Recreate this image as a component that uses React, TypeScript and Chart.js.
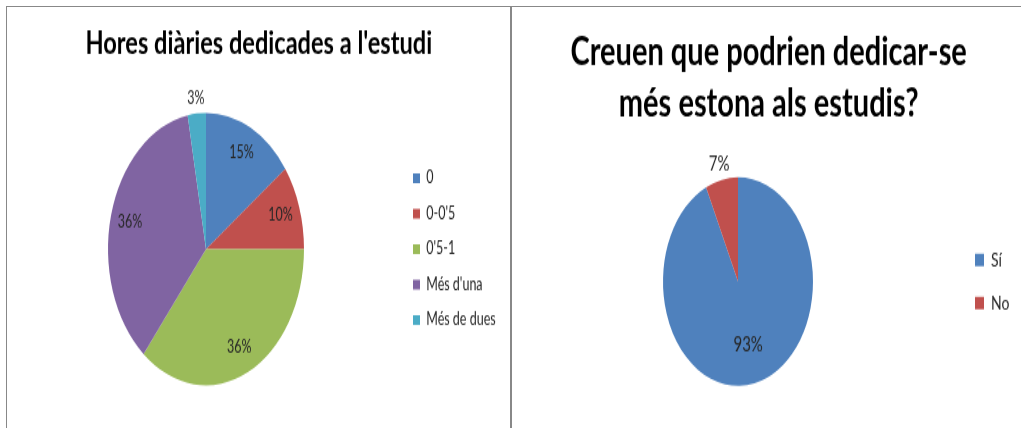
import React, { useEffect, useRef } from "react";
import { Chart, registerables } from "chart.js";

Chart.register(...registerables);

// ---- Data ----
const hoursTitle = "Hores diàries dedicades a l'estudi";
const hoursLabels = ["0", "0-0'5", "0'5-1", "Més d'una", "Més de dues"];
const hoursValues = [15, 10, 36, 36, 3];
const hoursColors = ["#4F81BD", "#C0504D", "#9BBB59", "#8064A2", "#4BACC6"];

const moreTitle = ["Creuen que podrien dedicar-se", "més estona als estudis?"];
const moreLabels = ["Sí", "No"];
const moreValues = [93, 7];
const moreColors = ["#4F81BD", "#C0504D"];

// ---- Styling ----
const STRETCH = 1.39;
const FONT = "Lato";
const TEXT_COLOR = "#262626";
const BORDER_COLOR = "#888888";

type PanelCfg = {
  left: number;
  top: number;
  width: number;
  height: number;
  title: string | string[];
  labels: string[];
  values: number[];
  colors: string[];
  titleSize: number;
  titleLineHeight: number;
  titlePadTop: number;
  titlePadBottom: number;
  legendSize: number;
  legendBox: number;
  legendPad: number;
  labelSize: number;
  labelFactors: number[];
  areaLeft: number;
  areaRight: number;
  padBottom: number;
};

const leftPanel: PanelCfg = {
  left: 8,
  top: 8,
  width: 502,
  height: 303,
  title: hoursTitle,
  labels: hoursLabels,
  values: hoursValues,
  colors: hoursColors,
  titleSize: 23.6,
  titleLineHeight: 1.2,
  titlePadTop: 11.1,
  titlePadBottom: 36.0,
  legendSize: 12.5,
  legendBox: 7,
  legendPad: 13,
  labelSize: 12.5,
  labelFactors: [0.8, 0.8, 0.8, 0.8, 1.11],
  areaLeft: 4,
  areaRight: 392,
  padBottom: 31.6,
};

const rightPanel: PanelCfg = {
  left: 512,
  top: 8,
  width: 513,
  height: 303,
  title: moreTitle,
  labels: moreLabels,
  values: moreValues,
  colors: moreColors,
  titleSize: 29,
  titleLineHeight: 1.29,
  titlePadTop: 12.9,
  titlePadBottom: 34.1,
  legendSize: 14,
  legendBox: 9,
  legendPad: 17,
  labelSize: 15,
  labelFactors: [0.62, 1.156],
  areaLeft: 6,
  areaRight: 446,
  padBottom: 31.2,
};

function PiePanel({ cfg }: { cfg: PanelCfg }) {
  const ref = useRef<HTMLCanvasElement>(null);

  useEffect(() => {
    const canvas = ref.current;
    if (!canvas) return;
    const m = document.createElement("canvas").getContext("2d")!;
    m.font = `${cfg.legendSize}px ${FONT}`;
    const maxText = Math.max(...cfg.labels.map((l) => m.measureText(l).width));
    const legendW = cfg.legendPad + cfg.legendBox + cfg.legendSize / 2 + maxText + 10;
    const padRight = Math.max(0, cfg.width - cfg.areaRight - legendW);

    const labelPlugin = {
      id: "pctLabels",
      afterDatasetsDraw(chart: any) {
        const ctx = chart.ctx as CanvasRenderingContext2D;
        const meta = chart.getDatasetMeta(0);
        const data = chart.data.datasets[0].data as number[];
        const total = data.reduce((a, b) => a + b, 0);
        ctx.save();
        ctx.font = `${cfg.labelSize}px ${FONT}`;
        ctx.fillStyle = TEXT_COLOR;
        ctx.textAlign = "center";
        ctx.textBaseline = "middle";
        meta.data.forEach((arc: any, i: number) => {
          const { x, y, startAngle, endAngle, outerRadius } = arc.getProps(
            ["x", "y", "startAngle", "endAngle", "outerRadius"],
            true
          );
          const mid = (startAngle + endAngle) / 2;
          const r = outerRadius * cfg.labelFactors[i];
          const pct = Math.round((data[i] / total) * 100);
          ctx.fillText(pct + "%", x + Math.cos(mid) * r, y + Math.sin(mid) * r);
        });
        ctx.restore();
      },
    };

    const chart = new Chart(canvas, {
      type: "pie",
      data: {
        labels: cfg.labels,
        datasets: [
          {
            data: cfg.values,
            backgroundColor: cfg.colors,
            borderWidth: 0,
          },
        ],
      },
      options: {
        responsive: false,
        animation: false,
        devicePixelRatio: 1,
        events: [],
        layout: {
          padding: { left: cfg.areaLeft, right: padRight, top: 0, bottom: cfg.padBottom },
        },
        plugins: {
          title: {
            display: true,
            text: cfg.title,
            color: "#000000",
            font: { family: FONT, size: cfg.titleSize, weight: "bold", lineHeight: cfg.titleLineHeight },
            padding: { top: cfg.titlePadTop, bottom: cfg.titlePadBottom },
          },
          legend: {
            display: true,
            position: "right",
            fullSize: false,
            align: "center",
            labels: {
              boxWidth: cfg.legendBox,
              boxHeight: cfg.legendBox,
              padding: cfg.legendPad,
              color: TEXT_COLOR,
              font: { family: FONT, size: cfg.legendSize },
            },
          },
          tooltip: { enabled: false },
        },
      } as any,
      plugins: [labelPlugin],
    });
    return () => chart.destroy();
  }, [cfg]);

  return (
    <div
      style={{
        position: "absolute",
        left: cfg.left,
        top: cfg.top,
        width: cfg.width,
        height: cfg.height,
        transform: `scaleY(${STRETCH})`,
        transformOrigin: "0 0",
      }}
    >
      <canvas ref={ref} width={cfg.width} height={cfg.height} />
    </div>
  );
}

export default function App() {
  return (
    <div
      style={{
        position: "fixed",
        left: 0,
        top: 0,
        width: 1021,
        height: 428,
        overflow: "hidden",
        background: "#ffffff",
      }}
    >
      <div
        style={{
          position: "absolute",
          left: 6,
          top: 6,
          width: 1100,
          height: 600,
          border: `1px solid ${BORDER_COLOR}`,
        }}
      />
      <div
        style={{
          position: "absolute",
          left: 510,
          top: 6,
          width: 2,
          height: 500,
          background: BORDER_COLOR,
        }}
      />
      <PiePanel cfg={leftPanel} />
      <PiePanel cfg={rightPanel} />
    </div>
  );
}
